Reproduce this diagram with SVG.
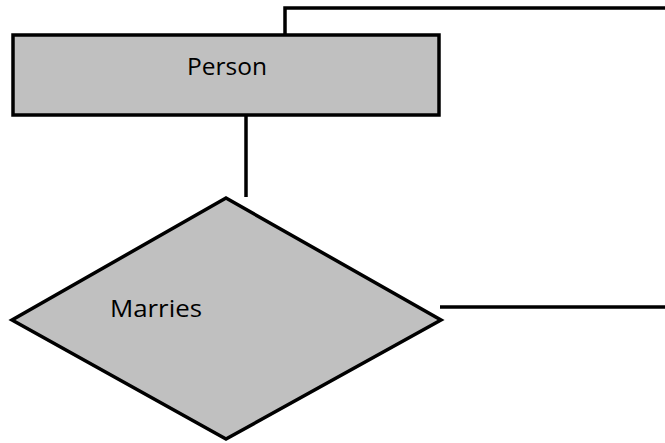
<svg xmlns="http://www.w3.org/2000/svg" width="665" height="443" viewBox="0 0 665 443">
  <style>
    .shape { fill: #c0c0c0; stroke: #000; stroke-width: 3.5; }
    .link { fill: none; stroke: #000; stroke-width: 3.5; }
    .label { font-family: "Open Sans", "Liberation Sans", sans-serif; font-size: 24px; fill: #000; }
  </style>
  <rect width="665" height="443" fill="#fff"/>
  <g id="connectors">
    <polyline class="link" points="285,34 285,8 665,8"/>
    <line class="link" x1="246" y1="116" x2="246" y2="197"/>
    <line class="link" x1="440" y1="307" x2="665" y2="307"/>
  </g>
  <g id="person">
    <rect class="shape" x="13" y="35" width="426" height="80"/>
    <text class="label" x="187" y="75" textLength="80" lengthAdjust="spacingAndGlyphs">Person</text>
  </g>
  <g id="marries">
    <polygon class="shape" points="226,198 441,320 226,439 12,320"/>
    <text class="label" x="110" y="317" textLength="92" lengthAdjust="spacingAndGlyphs">Marries</text>
  </g>
</svg>
